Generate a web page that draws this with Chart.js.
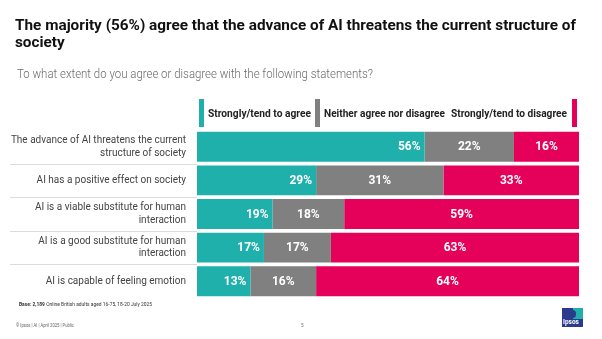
<!DOCTYPE html>
<html>
<head>
<meta charset="utf-8">
<script src="https://cdn.jsdelivr.net/npm/chart.js@4.4.1/dist/chart.umd.min.js"></script>
<style>
  html, body { margin: 0; padding: 0; background: #fff; }
  body { width: 602px; height: 339px; position: relative; overflow: hidden; font-family: Roboto, "Noto Sans", sans-serif; }
  #grafico { position: absolute; left: 0; top: 0; }
  .abs { position: absolute; white-space: nowrap; transform-origin: 0 0; }
  .titulo { left: 15px; top: 17px; font-size: 15.5px; line-height: 17px; font-weight: 700; color: #111; }
  .titulo span { display: block; }
  .sub { left: 17px; top: 68px; font-size: 12px; line-height: 12px; font-weight: 300; color: #6b6b6b; }
  .leg { top: 109px; font-size: 10px; line-height: 10px; font-weight: 700; color: #222; }
  .marca { position: absolute; top: 99px; width: 5px; height: 28px; }
  .base { left: 19px; top: 302px; font-size: 5px; line-height: 5px; color: #333; }
  .rodape { top: 323px; font-size: 4.6px; line-height: 5px; color: #666; }
  .logo { position: absolute; left: 562px; top: 308px; width: 21px; height: 19px; background: #2c3a8e; overflow: hidden; }
  .logo .verde { position: absolute; left: 11px; top: 0; width: 10px; height: 11px; background: #1fb0ac; }
  .logo .cabeca { position: absolute; left: 7px; top: 2px; width: 7px; height: 8px; border-radius: 4px; background: #2c3a8e; }
  .logo .nome { position: absolute; left: 1px; top: 11px; font-size: 6.5px; line-height: 7px; font-weight: 700; color: #fff; }
</style>
</head>
<body>
<canvas id="grafico" width="602" height="339"></canvas>

<div class="abs titulo" data-w="561" data-ref="0">
  <span>The majority (56%) agree that the advance of AI threatens the current structure of</span>
  <span>society</span>
</div>
<div class="abs sub" data-w="356">To what extent do you agree or disagree with the following statements?</div>

<div class="marca" style="left:199px;background:#1fb0ac"></div>
<div class="abs leg" style="left:208px" data-w="103">Strongly/tend to agree</div>
<div class="marca" style="left:315px;background:#808080"></div>
<div class="abs leg" style="left:324px" data-w="121">Neither agree nor disagree</div>
<div class="abs leg" style="left:451px" data-w="116">Strongly/tend to disagree</div>
<div class="marca" style="left:572px;background:#e5005a"></div>

<div class="abs base" data-w="133"><b>Base: 2,189</b> Online British adults aged 16-75, 18-20 July 2025</div>
<div class="abs rodape" style="left:16px" data-w="58">© Ipsos | AI | April 2025 | Public</div>
<div class="abs rodape" style="left:301px">5</div>
<div class="logo"><div class="verde"></div><div class="cabeca"></div><div class="nome">Ipsos</div></div>

<script>
// afirmações e percentuais por resposta
const afirmacoes = [
    ['The advance of AI threatens the current', 'structure of society'],
    'AI has a positive effect on society',
    ['AI is a viable substitute for human', 'interaction'],
    ['AI is a good substitute for human', 'interaction'],
    'AI is capable of feeling emotion'
];
const concorda = [56, 29, 19, 17, 13];
const neutro = [22, 31, 18, 17, 16];
const discorda = [16, 33, 59, 63, 64];

const series = [
    { label: 'Strongly/tend to agree', valores: concorda, cor: '#1fb0ac' },
    { label: 'Neither agree nor disagree', valores: neutro, cor: '#808080' },
    { label: 'Strongly/tend to disagree', valores: discorda, cor: '#e5005a' }
];

// barras ocupam a largura toda: cada linha normalizada pelo total de respostas
const totais = concorda.map(function(v, i) { return v + neutro[i] + discorda[i]; });

function ajusta_textos() {
    document.querySelectorAll('[data-w]').forEach(function(el) {
        const alvo = parseFloat(el.dataset.w);
        const medida = el.dataset.ref !== undefined ? el.children[parseInt(el.dataset.ref)] : el;
        const largura = medida.getBoundingClientRect().width;
        el.style.transform = 'scaleX(' + (alvo / largura) + ')';
    });
}
ajusta_textos();

const rotulos = {
    id: 'rotulos',
    beforeDatasetsDraw: function(chart) {
        const ctx = chart.ctx;
        const y = chart.scales.y;
        ctx.save();
        ctx.strokeStyle = '#dcdcdc';
        ctx.lineWidth = 1;
        for (let i = 0; i < afirmacoes.length - 1; i++) {
            const py = Math.round((y.getPixelForValue(i) + y.getPixelForValue(i + 1)) / 2) + 0.5;
            ctx.beginPath();
            ctx.moveTo(10, py);
            ctx.lineTo(chart.chartArea.left, py);
            ctx.stroke();
        }
        ctx.restore();
    },
    afterDatasetsDraw: function(chart) {
        const ctx = chart.ctx;
        ctx.save();
        ctx.font = 'bold 12px Roboto';
        ctx.fillStyle = '#fff';
        ctx.textBaseline = 'middle';
        chart.data.datasets.forEach(function(ds, d) {
            chart.getDatasetMeta(d).data.forEach(function(bar, i) {
                const texto = series[d].valores[i] + '%';
                if (d === 0) {
                    ctx.textAlign = 'right';
                    ctx.fillText(texto, bar.x - 4, bar.y + 0.5);
                } else {
                    ctx.textAlign = 'center';
                    ctx.fillText(texto, (bar.x + bar.base) / 2, bar.y + 0.5);
                }
            });
        });
        ctx.restore();
    }
};

const ctx = document.getElementById('grafico').getContext('2d');
const grafico = new Chart(ctx, {
    type: 'bar',
    data: {
        labels: afirmacoes,
        datasets: series.map(function(s) {
            return {
                label: s.label,
                data: s.valores.map(function(v, i) { return v / totais[i] * 100; }),
                backgroundColor: s.cor,
                borderWidth: 0,
                barPercentage: 0.89,
                categoryPercentage: 1
            };
        })
    },
    options: {
        indexAxis: 'y',
        responsive: false,
        animation: false,
        layout: { padding: { top: 130, bottom: 41, right: 23, left: 0 } },
        scales: {
            x: { stacked: true, min: 0, max: 100, display: false },
            y: {
                stacked: true,
                grid: { display: false, drawTicks: false },
                border: { display: false },
                ticks: {
                    padding: 11,
                    color: '#444',
                    font: { family: 'Roboto', size: 10, lineHeight: 1.25 }
                },
                afterFit: function(scale) { scale.width = 197; }
            }
        },
        plugins: {
            legend: { display: false },
            tooltip: { enabled: false }
        }
    },
    plugins: [rotulos]
});
</script>
</body>
</html>
